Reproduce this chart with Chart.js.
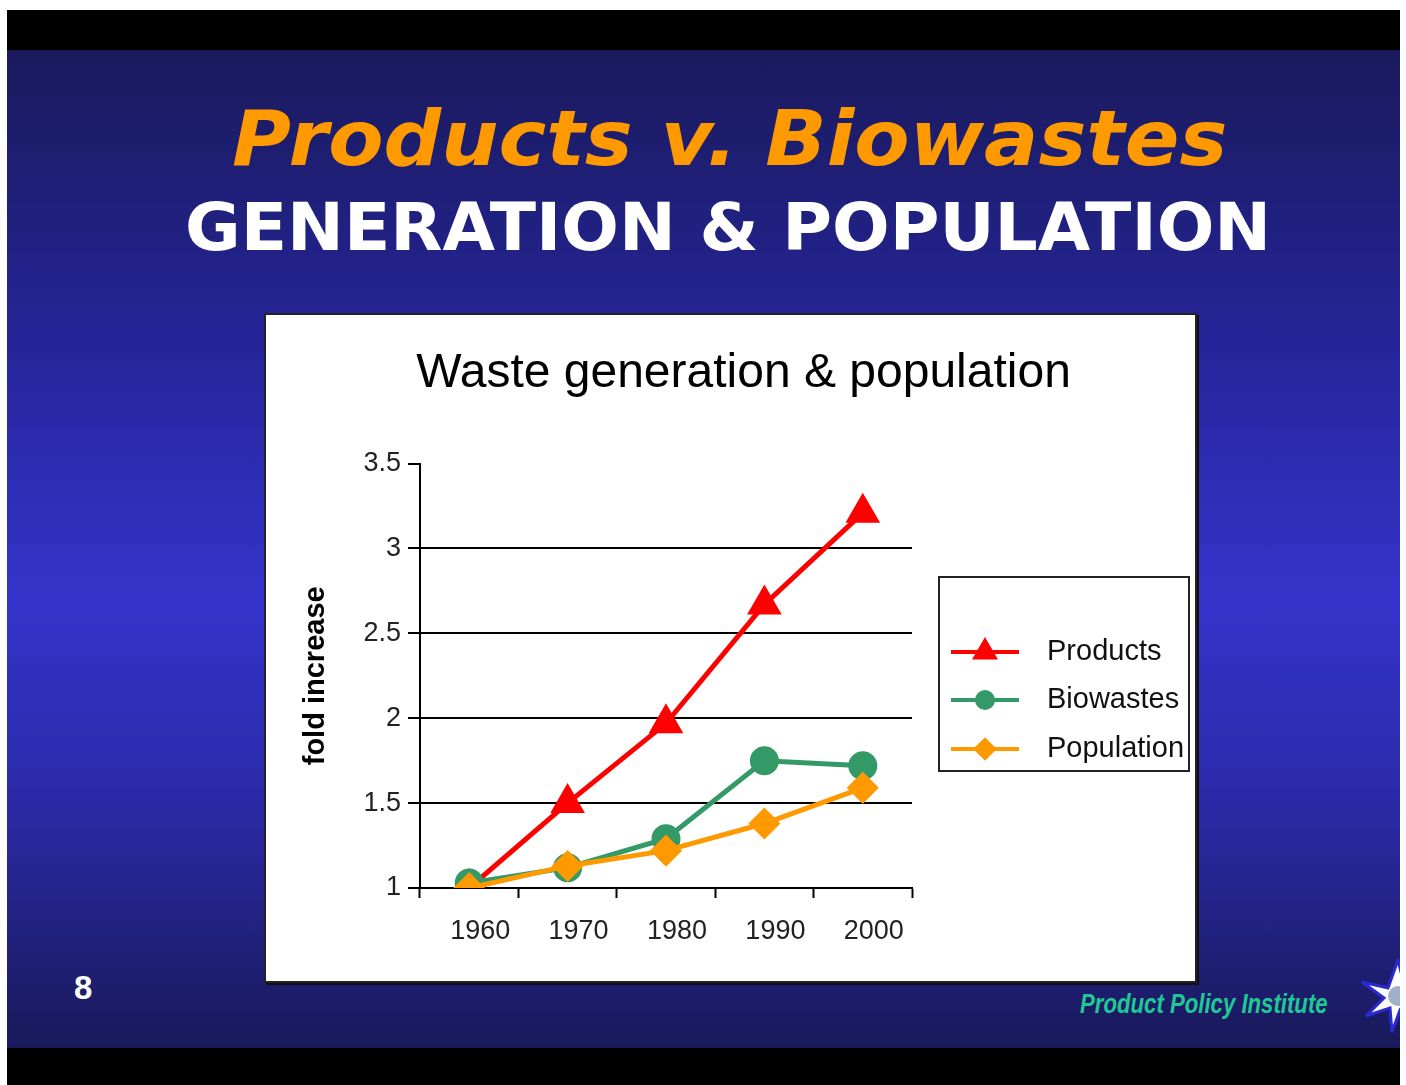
<!DOCTYPE html>
<html>
<head>
<meta charset="utf-8">
<title>Products v. Biowastes</title>
<script src="https://cdn.jsdelivr.net/npm/chart.js@4.4.1/dist/chart.umd.min.js"></script>
<style>
  html, body { margin: 0; padding: 0; background: #fff; }
  #wrap { position: absolute; left: 0; top: 0; width: 1400px; height: 1085px; overflow: hidden; }
  #black { position: absolute; left: 7px; top: 10px; width: 1393px; height: 1075px; background: #000; }
  #blue {
    position: absolute; left: 7px; top: 50px; width: 1393px; height: 998px;
    background: linear-gradient(to bottom, #1a1a5c 0%, #25259a 30%, #3434cc 55%, #2a2aa8 75%, #19195a 100%);
  }
  .txt { position: absolute; white-space: nowrap; line-height: 1; transform-origin: 0 0; }
  #t1 { left: 232px; top: 94px; font: italic bold 76px "DejaVu Sans", sans-serif; color: #ff9900; }
  #t2 { left: 185px; top: 189px; font: bold 66px "DejaVu Sans", sans-serif; color: #fff; }
  #pg { left: 74px; top: 969px; font: bold 33px "Liberation Sans", Arial, sans-serif; color: #fff; }
  #ppi { left: 1080px; top: 989px; font: italic bold 27px "Liberation Sans", Arial, sans-serif; color: #1fc895; }
  #box {
    position: absolute; left: 264px; top: 313px; width: 933px; height: 670px;
    box-sizing: border-box; border: 2px solid #222; background: #fff;
    box-shadow: 2px 2px 0 #111;
  }
  #star { position: absolute; left: 1358px; top: 958px; }
</style>
</head>
<body>
<div id="wrap">
  <div id="black"></div>
  <div id="blue"></div>
  <div class="txt" id="t1" data-w="995">Products v. Biowastes</div>
  <div class="txt" id="t2" data-w="1086">GENERATION &amp; POPULATION</div>
  <div class="txt" id="pg">8</div>
  <div class="txt" id="ppi" data-w="248">Product Policy Institute</div>
  <svg id="star" width="80" height="76" viewBox="0 0 80 76">
    <polygon points="40,2 46,26 70,14 52,34 76,40 52,46 62,70 42,52 34,74 32,50 8,58 26,40 4,24 30,30" fill="#ffffff" stroke="#2a2ad0" stroke-width="3"/>
    <circle cx="40" cy="38" r="10" fill="#9fb0c8"/>
  </svg>
  <div id="box"><canvas id="chart" width="929" height="666"></canvas></div>
</div>
<script>
// data
var years = ['1960', '1970', '1980', '1990', '2000'];
var products = [1.0, 1.5, 1.97, 2.67, 3.21];
var biowastes = [1.03, 1.12, 1.29, 1.75, 1.72];
var population = [1.0, 1.13, 1.22, 1.38, 1.59];
var yTicks = [1, 1.5, 2, 2.5, 3, 3.5];

var seriesNames = ['Products', 'Biowastes', 'Population'];
var seriesColors = ['#ff0000', '#339966', '#ff9900'];
var seriesStyles = ['triangle', 'circle', 'rectRot'];

// squeeze the slide headings to the widths of the original
document.querySelectorAll('.txt[data-w]').forEach(function (el) {
    var w = +el.getAttribute('data-w');
    el.style.transform = 'scaleX(' + (w / el.scrollWidth) + ')';
});

Chart.defaults.font.family = "'Liberation Sans', Arial, sans-serif";
Chart.defaults.color = '#222';

var legendBox = {
    id: 'legendBox',
    afterDraw: function (chart) {
        var ctx = chart.ctx;
        var left = chart.chartArea.right + 27, top = 262;
        ctx.save();
        ctx.strokeStyle = '#222';
        ctx.lineWidth = 2;
        ctx.strokeRect(left, top, 250, 194);
        var rows = [337, 385, 434];
        var sizes = [11, 8, 9];
        chart.data.datasets.forEach(function (ds, i) {
            var y = rows[i];
            ctx.strokeStyle = ds.borderColor;
            ctx.fillStyle = ds.borderColor;
            ctx.lineWidth = 4;
            ctx.beginPath();
            ctx.moveTo(left + 12, y);
            ctx.lineTo(left + 80, y);
            ctx.stroke();
            Chart.helpers.drawPoint(ctx, { pointStyle: ds.pointStyle, radius: sizes[i], rotation: 0, borderWidth: 1 }, left + 46, y);
            ctx.fillStyle = '#111';
            ctx.font = "29px 'Liberation Sans', Arial, sans-serif";
            ctx.textBaseline = 'middle';
            ctx.textAlign = 'left';
            ctx.fillText(ds.label, left + 108, y);
        });
        ctx.restore();
    }
};

var valueSets = [products, biowastes, population];
var datasets = [];
for (var i = 0; i < seriesNames.length; i++) {
    datasets.push({
        label: seriesNames[i],
        data: valueSets[i],
        borderColor: seriesColors[i],
        backgroundColor: seriesColors[i],
        pointBackgroundColor: seriesColors[i],
        pointBorderColor: seriesColors[i],
        pointStyle: seriesStyles[i],
        pointRadius: [15, 12, 12.5][i],
        borderWidth: 5,
        tension: 0,
        order: 3 - i
    });
}

new Chart(document.getElementById('chart'), {
    type: 'line',
    data: { labels: years, datasets: datasets },
    options: {
        responsive: false,
        animation: false,
        devicePixelRatio: 1,
        layout: { padding: { left: 26, right: 0, top: 0, bottom: 0 } },
        plugins: {
            legend: { display: false },
            tooltip: { enabled: false },
            title: {
                display: true,
                text: 'Waste generation & population',
                color: '#000',
                font: { size: 48, weight: 'normal' },
                padding: { top: 30, bottom: 61 }
            }
        },
        scales: {
            x: {
                offset: true,
                grid: { offset: true, drawOnChartArea: false, tickLength: 10, tickColor: '#000', tickWidth: 2 },
                border: { color: '#000', width: 2 },
                ticks: { font: { size: 27 }, color: '#222', padding: 17, labelOffset: 11, maxRotation: 0 },
                afterFit: function (s) { s.height = 93; }
            },
            y: {
                min: 1,
                max: 3.5,
                afterBuildTicks: function (s) { s.ticks = yTicks.map(function (v) { return { value: v }; }); },
                grid: {
                    color: function (c) {
                        return (c.tick && (c.tick.value === 3.5 || c.tick.value === 1)) ? 'rgba(0,0,0,0)' : '#000';
                    },
                    lineWidth: 2,
                    tickLength: 12,
                    tickColor: '#000',
                    tickWidth: 2
                },
                border: { color: '#000', width: 2 },
                ticks: { font: { size: 27 }, color: '#222', padding: 7, callback: function (v) { return String(v); } },
                title: {
                    display: true,
                    text: 'fold increase',
                    color: '#000',
                    font: { size: 29, weight: 'bold' },
                    padding: { top: 7, bottom: 0 }
                },
                afterFit: function (s) { s.width = 128; }
            },
            // empty axis that keeps room for the legend on the right
            room: {
                position: 'right',
                min: 0,
                max: 1,
                ticks: { display: false },
                grid: { display: false },
                border: { display: false },
                afterFit: function (s) { s.width = 283; }
            }
        }
    },
    plugins: [legendBox]
});
</script>
</body>
</html>
